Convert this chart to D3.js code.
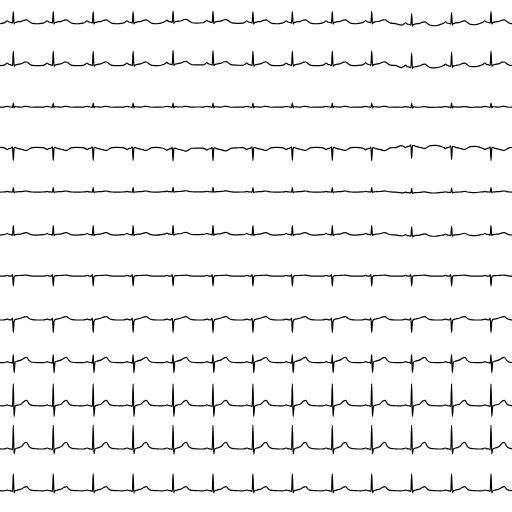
<!DOCTYPE html>
<html>
<head>
<meta charset="utf-8">
<script src="https://cdn.jsdelivr.net/npm/d3@7"></script>
<style>
  html, body { margin: 0; padding: 0; background: #fff; }
  svg { display: block; }
</style>
</head>
<body>
<script>
// ---- data ----
const leads = ["I","II","III","aVR","aVL","aVF","V1","V2","V3","V4","V5","V6"];
// R-peak times (s) of the 13 beats
const beatTimes = [0.26, 1.04, 1.82, 2.60, 3.38, 4.16, 4.94, 5.71, 6.49, 7.26, 8.04, 8.82, 9.59];
// time offsets (s) of template samples relative to the R peak
const knots = [-0.20, -0.15, -0.12, -0.09, -0.04, -0.015, 0, 0.015, 0.035, 0.08, 0.16, 0.22, 0.26, 0.31, 0.37, 0.46];
// per-lead beat template amplitudes (mV) at the knots
const tplI   = [-0.03, 0.03, 0.09, 0.03, 0.00, -0.03, 0.55, -0.08, 0.00, 0.03, 0.06, 0.12, 0.13, 0.05, -0.04, -0.06];
const tplII  = [-0.02, 0.04, 0.10, 0.04, 0.00, -0.03, 0.70, -0.06, 0.00, 0.03, 0.07, 0.14, 0.15, 0.06, -0.02, -0.03];
const tplIII = [ 0.00, 0.02, 0.03, 0.02, 0.00, -0.02, 0.20, -0.04, 0.02, 0.01, 0.00, 0.03, 0.03, 0.01, -0.01, 0.00];
const tplaVR = [ 0.02, -0.03, -0.08, -0.03, 0.00, 0.06, -0.62, 0.00, 0.03, -0.02, -0.06, -0.11, -0.12, -0.05, 0.02, 0.03];
const tplaVL = [ 0.00, 0.01, 0.03, 0.01, 0.00, -0.01, 0.22, -0.03, 0.00, 0.01, 0.02, 0.04, 0.05, 0.02, 0.00, -0.01];
const tplaVF = [ 0.00, 0.02, 0.06, 0.02, 0.00, -0.02, 0.45, -0.05, 0.00, 0.02, 0.04, 0.09, 0.10, 0.04, -0.01, -0.02];
const tplV1  = [ 0.00, 0.01, 0.03, 0.01, 0.00, 0.07, -0.50, -0.05, 0.01, 0.02, 0.03, 0.04, 0.05, 0.02, 0.00, 0.00];
const tplV2  = [ 0.00, 0.02, 0.04, 0.02, 0.00, 0.10, -0.62, -0.08, 0.02, 0.05, 0.10, 0.16, 0.17, 0.08, 0.02, 0.00];
const tplV3  = [ 0.00, 0.02, 0.05, 0.02, 0.00, -0.02, 0.40, -0.50, 0.03, 0.08, 0.14, 0.24, 0.26, 0.10, 0.02, 0.00];
const tplV4  = [ 0.00, 0.02, 0.05, 0.02, 0.00, -0.03, 1.10, -0.52, 0.00, 0.04, 0.10, 0.25, 0.28, 0.10, 0.03, 0.01];
const tplV5  = [ 0.00, 0.02, 0.05, 0.02, 0.00, -0.04, 1.20, -0.25, 0.00, 0.05, 0.12, 0.30, 0.33, 0.12, 0.03, 0.01];
const tplV6  = [ 0.00, 0.02, 0.04, 0.02, 0.00, -0.03, 0.85, -0.10, 0.00, 0.04, 0.09, 0.19, 0.21, 0.08, 0.02, 0.01];
// baseline level of each lead (mV)
const level = [-0.06, -0.05, -0.02, 0.065, 0.00, 0.00, 0.065, 0.00, 0.00, -0.03, -0.05, -0.01];
// per-beat baseline wander (mV) and how strongly each lead shows it
const wander = [0, 0, 0, 0, 0.03, 0.02, 0, 0, 0, 0.01, -0.10, -0.05, 0];
const wanderGain = [1, 1.1, 0.1, -1, 0.4, 0.6, 0, 0, 0, 0, 0, 0];

const templates = [tplI, tplII, tplIII, tplaVR, tplaVL, tplaVF, tplV1, tplV2, tplV3, tplV4, tplV5, tplV6];

// ---- drawing ----
const W = 512, H = 512;
const svg = d3.select("body").append("svg").attr("width", W).attr("height", H)
  .style("background", "#fff");

const x = d3.scaleLinear().domain([0, 10]).range([0, W]);
const row = d3.scaleBand().domain(leads).range([0, H]);
const mvPx = 20; // pixels per mV
const amp = d3.scaleLinear().domain([-1, 1]).range([mvPx, -mvPx]);

leads.forEach((lead, i) => {
  const tpl = templates[i];
  const pts = [[0, tpl[tpl.length - 1] + level[i]]];
  beatTimes.forEach((bt, b) => {
    knots.forEach((k, j) => {
      pts.push([bt + k, tpl[j] + level[i] + wander[b] * wanderGain[i]]);
    });
  });
  const base = row(lead) + row.bandwidth() / 2;
  const line = d3.line()
    .x(d => x(d[0]))
    .y(d => base + amp(d[1]))
    .curve(d3.curveMonotoneX);
  svg.append("path")
    .datum(pts)
    .attr("d", line)
    .attr("fill", "none")
    .attr("stroke", "#000")
    .attr("stroke-width", 1.2)
    .attr("stroke-linejoin", "round");
});
</script>
</body>
</html>
